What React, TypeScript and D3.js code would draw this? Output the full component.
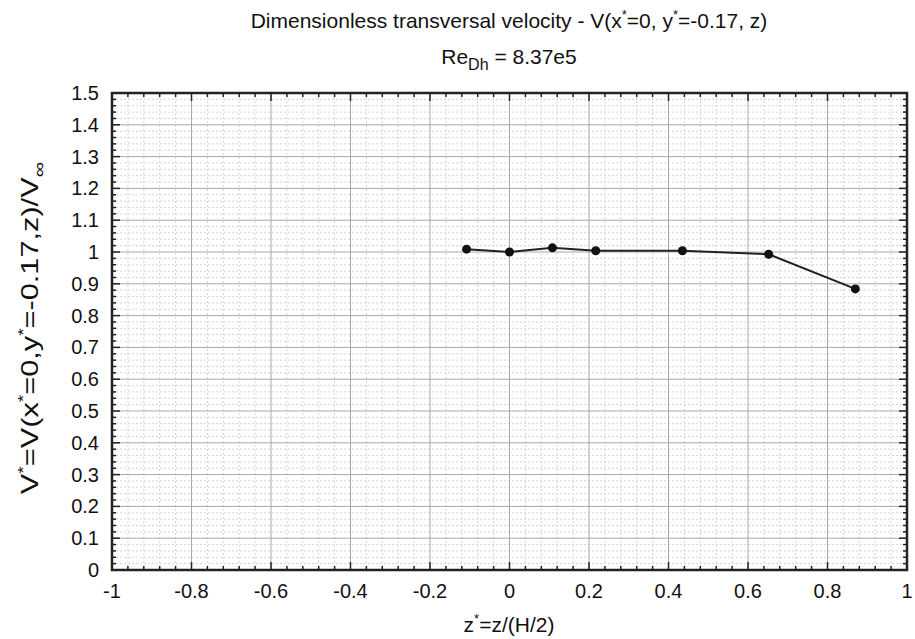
import React from "react";
import * as d3 from "d3";

const zValues = [-0.108, 0.0, 0.108, 0.217, 0.435, 0.652, 0.87];
const vValues = [1.009, 1.0, 1.013, 1.004, 1.004, 0.993, 0.884];
const xTicks = [-1, -0.8, -0.6, -0.4, -0.2, 0, 0.2, 0.4, 0.6, 0.8, 1];
const yTicks = [0, 0.1, 0.2, 0.3, 0.4, 0.5, 0.6, 0.7, 0.8, 0.9, 1, 1.1, 1.2, 1.3, 1.4, 1.5];

const W = 915, H = 639;
const L = 112, R = 907, T = 93, B = 570;
const FONT = "'Liberation Sans', Arial, Helvetica, sans-serif";

export default function App() {
  const x = d3.scaleLinear().domain([-1, 1]).range([L, R]);
  const y = d3.scaleLinear().domain([0, 1.5]).range([B, T]);
  const xMinor = d3.range(-1, 1.0001, 0.04).map((v) => +v.toFixed(3));
  const yMinor = d3.range(0, 1.5001, 0.02).map((v) => +v.toFixed(3));
  const isMajorX = (v: number) => xTicks.some((t) => Math.abs(t - v) < 1e-6);
  const isMajorY = (v: number) => yTicks.some((t) => Math.abs(t - v) < 1e-6);
  const pts = zValues.map((z, i) => [z, vValues[i]] as [number, number]);
  const line = d3.line<[number, number]>().x((d) => x(d[0])).y((d) => y(d[1]));
  const fmt = (v: number) => (Math.abs(v) < 1e-9 ? "0" : String(+v.toFixed(2)));

  return (
    <svg width={W} height={H} style={{ position: "absolute", left: 0, top: 0, background: "#fff" }} fontFamily={FONT}>
      <rect x={0} y={0} width={W} height={H} fill="#fff" />
      {/* minor grid */}
      {xMinor.filter((v) => !isMajorX(v)).map((v) => (
        <line key={"gx" + v} x1={x(v)} x2={x(v)} y1={T} y2={B} stroke="#d4d4d4" strokeWidth={1} strokeDasharray="2,2" />
      ))}
      {yMinor.filter((v) => !isMajorY(v)).map((v) => (
        <line key={"gy" + v} x1={L} x2={R} y1={y(v)} y2={y(v)} stroke="#d4d4d4" strokeWidth={1} strokeDasharray="2,2" />
      ))}
      {/* major grid */}
      {xTicks.map((v) => (
        <line key={"Gx" + v} x1={x(v)} x2={x(v)} y1={T} y2={B} stroke="#a8a8a8" strokeWidth={1} />
      ))}
      {yTicks.map((v) => (
        <line key={"Gy" + v} x1={L} x2={R} y1={y(v)} y2={y(v)} stroke="#a8a8a8" strokeWidth={1} />
      ))}
      {/* ticks */}
      {xMinor.map((v) => {
        const len = isMajorX(v) ? 8 : 4;
        return (
          <g key={"tx" + v} stroke="#222" strokeWidth={1.5}>
            <line x1={x(v)} x2={x(v)} y1={B} y2={B - len} />
            <line x1={x(v)} x2={x(v)} y1={T} y2={T + len} />
          </g>
        );
      })}
      {yMinor.map((v) => {
        const len = isMajorY(v) ? 8 : 4;
        return (
          <g key={"ty" + v} stroke="#222" strokeWidth={1.5}>
            <line x1={L} x2={L + len} y1={y(v)} y2={y(v)} />
            <line x1={R} x2={R - len} y1={y(v)} y2={y(v)} />
          </g>
        );
      })}
      {/* frame */}
      <rect x={L} y={T} width={R - L} height={B - T} fill="none" stroke="#222" strokeWidth={2.5} />
      {/* tick labels */}
      {xTicks.map((v) => (
        <text key={"lx" + v} x={x(v)} y={598} textAnchor="middle" fontSize={20} fill="#111">{fmt(v)}</text>
      ))}
      {yTicks.map((v) => (
        <text key={"ly" + v} x={99} y={y(v) + 7} textAnchor="end" fontSize={20} fill="#111">{fmt(v)}</text>
      ))}
      {/* data */}
      <path d={line(pts) || ""} fill="none" stroke="#222" strokeWidth={2} />
      {pts.map((p, i) => (
        <circle key={"p" + i} cx={x(p[0])} cy={y(p[1])} r={4.5} fill="#111" />
      ))}
      {/* titles */}
      <text x={509} y={28} textAnchor="middle" fontSize={21} fill="#111">
        Dimensionless transversal velocity - V(x<tspan dy={-9} fontSize={13}>*</tspan><tspan dy={9}>=0, y</tspan><tspan dy={-9} fontSize={13}>*</tspan><tspan dy={9}>=-0.17, z)</tspan>
      </text>
      <text x={509} y={64} textAnchor="middle" fontSize={21} fill="#111">
        Re<tspan dy={6} fontSize={16}>Dh</tspan><tspan dy={-6}> = 8.37e5</tspan>
      </text>
      <text x={509} y={632} textAnchor="middle" fontSize={21} fill="#111">
        z<tspan dy={-9} fontSize={13}>*</tspan><tspan dy={9}>=z/(H/2)</tspan>
      </text>
      <text transform={`translate(38,328) rotate(-90) scale(1.28,1)`} textAnchor="middle" fontSize={24} fill="#111">
        V<tspan dy={-10} fontSize={15}>*</tspan><tspan dy={10}>=V(x</tspan><tspan dy={-10} fontSize={15}>*</tspan><tspan dy={10}>=0,y</tspan><tspan dy={-10} fontSize={15}>*</tspan><tspan dy={10}>=-0.17,z)/V</tspan><tspan dy={7} fontSize={17}>∞</tspan>
      </text>
    </svg>
  );
}
